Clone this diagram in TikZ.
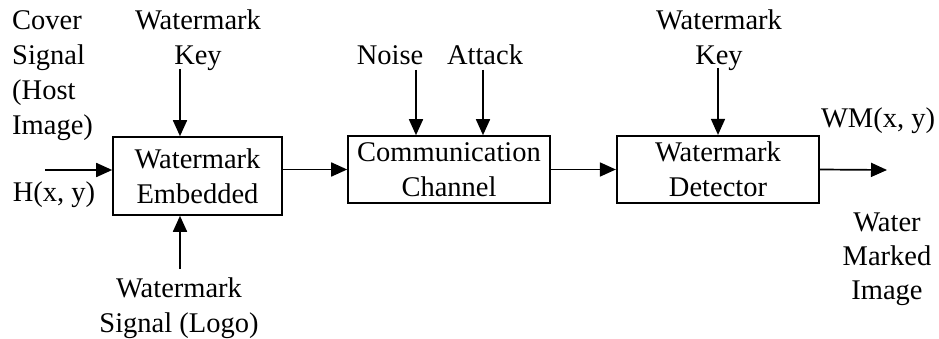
\documentclass[tikz,border=0pt]{standalone}
\usepackage{fontspec}
\setmainfont{Liberation Serif}
\usetikzlibrary{positioning,arrows.meta}

\tikzset{
  blk/.style={draw,line width=1.6pt,inner sep=0pt,align=center},
  lbl/.style={inner sep=0pt,align=center,anchor=base},
  arr/.style={line width=1.7pt,-{Triangle[length=16pt,width=14pt]}}
}

\begin{document}
\begin{tikzpicture}[x=1pt,y=-1pt,font=\fontsize{28.5}{35}\selectfont]
\useasboundingbox (0,0) rectangle (939,339);

% blocks
\node (embed) [blk,minimum width=169pt,minimum height=78pt] at (197.5,176) {Watermark\\Embedded};
\node (channel) [blk,minimum width=202pt,minimum height=67pt] at (449,169.5) {Communication\\Channel};
\node (detect) [blk,line width=2.2pt,minimum width=202pt,minimum height=67pt] at (718,169.5) {Watermark\\Detector};

% labels (base = last line)
\node (cover) [lbl,anchor=base west,align=left] at (12,134.5) {Cover\\Signal\\(Host\\Image)};
\node (key1) [lbl] at (198,64.5) {Watermark\\Key};
\node (logo) [lbl] at (179,332.5) {Watermark\\Signal (Logo)};
\node (hxy) [lbl] at (54,201.5) {H(x, y)};
\node (noise) [lbl] at (390,64.5) {Noise};
\node (attack) [lbl] at (485,64.5) {Attack};
\node (key2) [lbl] at (719,64.5) {Watermark\\Key};
\node (wmxy) [lbl] at (878,127.5) {WM(x, y)};
\node (wmimg) [lbl,font=\fontsize{28.5}{34}\selectfont] at (887,299.5) {Water\\Marked\\Image};

% arrow ends
\coordinate (hin) at (45,170);
\coordinate (k1) at (180,69);
\coordinate (lg) at (180,269);
\coordinate (ns) at (416,70);
\coordinate (at) at (483,70);
\coordinate (k2) at (718,68);
\coordinate (out) at (887,170);

\path[arr]
(hin) edge (hin -| embed.west)
(k1) edge (k1 |- embed.north)
(lg) edge (lg |- embed.south)
(embed.east |- channel.west) edge (channel.west)
(ns) edge (ns |- channel.north)
(at) edge (at |- channel.north)
(channel.east) edge (detect.west)
(k2) edge (k2 |- detect.north)
(detect.east) edge (out);

\end{tikzpicture}
\end{document}
